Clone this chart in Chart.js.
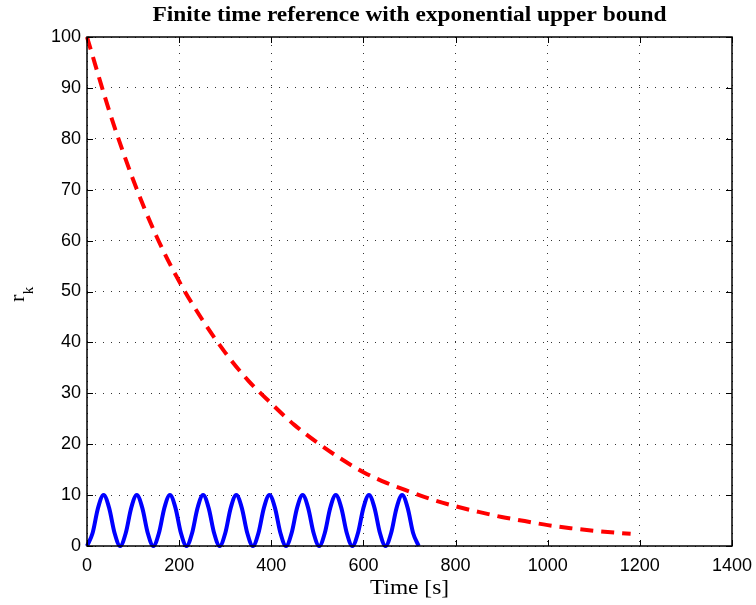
<!DOCTYPE html>
<html><head><meta charset="utf-8">
<script src="https://cdn.jsdelivr.net/npm/chart.js@4/dist/chart.umd.min.js"></script>
<style>html,body{margin:0;padding:0;background:#fff}#wrap{width:756px;height:605px}</style>
</head><body><div id="wrap"><canvas id="c" width="756" height="605"></canvas></div>
<script>
const titleText = 'Finite time reference with exponential upper bound';
const xLabel = 'Time [s]';
const yLabelMain = 'r';
const yLabelSub = 'k';
const xTicks = [0, 200, 400, 600, 800, 1000, 1200, 1400];
const yTicks = [0, 10, 20, 30, 40, 50, 60, 70, 80, 90, 100];

// exponential upper bound (red dashed)
const boundTime  = [0, 50, 100, 150, 200, 250, 300, 350, 400, 450, 500, 550, 600, 650, 700, 750, 800, 850, 900, 950, 1000, 1050, 1100, 1150, 1180];
const boundValue = [100, 85, 72, 61, 52, 44.5, 38, 32.5, 28, 23.8, 20.3, 17.2, 14.5, 12.4, 10.7, 9.1, 7.8, 6.7, 5.7, 4.9, 4.1, 3.5, 3.0, 2.6, 2.4];

// finite time reference (blue solid)
const refTime = [0, 12, 24, 36, 48, 60, 72, 84, 96, 108, 120, 132, 144, 156, 168, 180, 192, 204, 216, 228, 240, 252, 264, 276, 288, 300, 312, 324, 336, 348, 360, 372, 384, 396, 408, 420, 432, 444, 456, 468, 480, 492, 504, 516, 528, 540, 552, 564, 576, 588, 600, 612, 624, 636, 648, 660, 672, 684, 696, 708, 720];
const refValue = [0, 2.5, 7.5, 10, 7.5, 2.5, 0, 2.5, 7.5, 10, 7.5, 2.5, 0, 2.5, 7.5, 10, 7.5, 2.5, 0, 2.5, 7.5, 10, 7.5, 2.5, 0, 2.5, 7.5, 10, 7.5, 2.5, 0, 2.5, 7.5, 10, 7.5, 2.5, 0, 2.5, 7.5, 10, 7.5, 2.5, 0, 2.5, 7.5, 10, 7.5, 2.5, 0, 2.5, 7.5, 10, 7.5, 2.5, 0, 2.5, 7.5, 10, 7.5, 2.5, 0];

const boundData = boundTime.map((t, i) => ({x: t, y: boundValue[i]}));
const refData = refTime.map((t, i) => ({x: t, y: refValue[i]}));

const TEXT_STRETCH = 1.17;

const decor = {
  id: 'decor',
  afterDraw(chart) {
    const ctx = chart.ctx;
    const a = chart.chartArea;
    const xs = chart.scales.x, ys = chart.scales.y;
    ctx.save();
    // inward ticks
    ctx.strokeStyle = '#000';
    ctx.lineWidth = 1;
    ctx.beginPath();
    xTicks.forEach(v => {
      const px = Math.round(xs.getPixelForValue(v)) + 0.5;
      ctx.moveTo(px, a.bottom); ctx.lineTo(px, a.bottom - 6);
      ctx.moveTo(px, a.top); ctx.lineTo(px, a.top + 6);
    });
    yTicks.forEach(v => {
      const py = Math.round(ys.getPixelForValue(v)) + 0.5;
      ctx.moveTo(a.left, py); ctx.lineTo(a.left + 6, py);
      ctx.moveTo(a.right, py); ctx.lineTo(a.right - 6, py);
    });
    ctx.stroke();
    // box
    ctx.lineWidth = 1.5;
    ctx.strokeRect(a.left, a.top, a.right - a.left, a.bottom - a.top);

    ctx.fillStyle = '#000';
    const cx = (a.left + a.right) / 2;
    // title
    ctx.save();
    ctx.translate(cx, 21);
    ctx.scale(TEXT_STRETCH, 1);
    ctx.font = 'bold 20px "Liberation Serif", "Times New Roman", serif';
    ctx.textAlign = 'center';
    ctx.textBaseline = 'alphabetic';
    ctx.fillText(titleText, 0, 0);
    ctx.restore();
    // x label
    ctx.save();
    ctx.translate(cx, 594);
    ctx.scale(TEXT_STRETCH, 1);
    ctx.font = '20px "Liberation Serif", "Times New Roman", serif';
    ctx.textAlign = 'center';
    ctx.textBaseline = 'alphabetic';
    ctx.fillText(xLabel, 0, 0);
    ctx.restore();
    // y label r_k
    ctx.save();
    ctx.translate(24, 302);
    ctx.rotate(-Math.PI / 2);
    ctx.textAlign = 'left';
    ctx.textBaseline = 'alphabetic';
    ctx.font = '22px "Liberation Serif", "Times New Roman", serif';
    ctx.fillText(yLabelMain, 0, 0);
    const w = ctx.measureText(yLabelMain).width;
    ctx.font = '15px "Liberation Serif", "Times New Roman", serif';
    ctx.fillText(yLabelSub, w + 0.5, 9);
    ctx.restore();
    ctx.restore();
  }
};

const tickFont = { family: '"Liberation Sans", Arial, sans-serif', size: 18 };

new Chart(document.getElementById('c'), {
  type: 'scatter',
  data: {
    datasets: [
      {
        label: 'upper bound',
        data: boundData,
        showLine: true,
        borderColor: '#ff0000',
        borderWidth: 4,
        borderDash: [13, 8],
        pointRadius: 0,
        cubicInterpolationMode: 'monotone',
        fill: false,
        clip: false
      },
      {
        label: 'reference',
        data: refData,
        showLine: true,
        borderColor: '#0000ff',
        borderWidth: 4,
        pointRadius: 0,
        cubicInterpolationMode: 'monotone',
        fill: false,
        clip: false
      }
    ]
  },
  options: {
    responsive: false,
    animation: false,
    devicePixelRatio: 1,
    layout: { padding: { top: 37, right: 24, left: 0, bottom: 0 } },
    plugins: { legend: { display: false }, title: { display: false }, tooltip: { enabled: false } },
    scales: {
      x: {
        type: 'linear', min: 0, max: 1400,
        afterBuildTicks: s => { s.ticks = xTicks.map(v => ({ value: v })); },
        afterFit: s => { s.height = 59; s.paddingLeft = 0; s.paddingRight = 0; },
        ticks: { color: '#000', padding: 9, maxRotation: 0, autoSkip: false,
                 callback: v => String(v), font: tickFont },
        grid: { color: 'rgba(0,0,0,0.8)', lineWidth: 1, drawTicks: false },
        border: { display: false, dash: [1, 7] }
      },
      y: {
        type: 'linear', min: 0, max: 100,
        afterBuildTicks: s => { s.ticks = yTicks.map(v => ({ value: v })); },
        afterFit: s => { s.width = 87; s.paddingTop = 0; s.paddingBottom = 0; },
        ticks: { color: '#000', padding: 6, autoSkip: false,
                 callback: v => String(v), font: tickFont },
        grid: { color: 'rgba(0,0,0,0.8)', lineWidth: 1, drawTicks: false },
        border: { display: false, dash: [1, 7] }
      }
    }
  },
  plugins: [decor]
});
</script>
</body></html>
